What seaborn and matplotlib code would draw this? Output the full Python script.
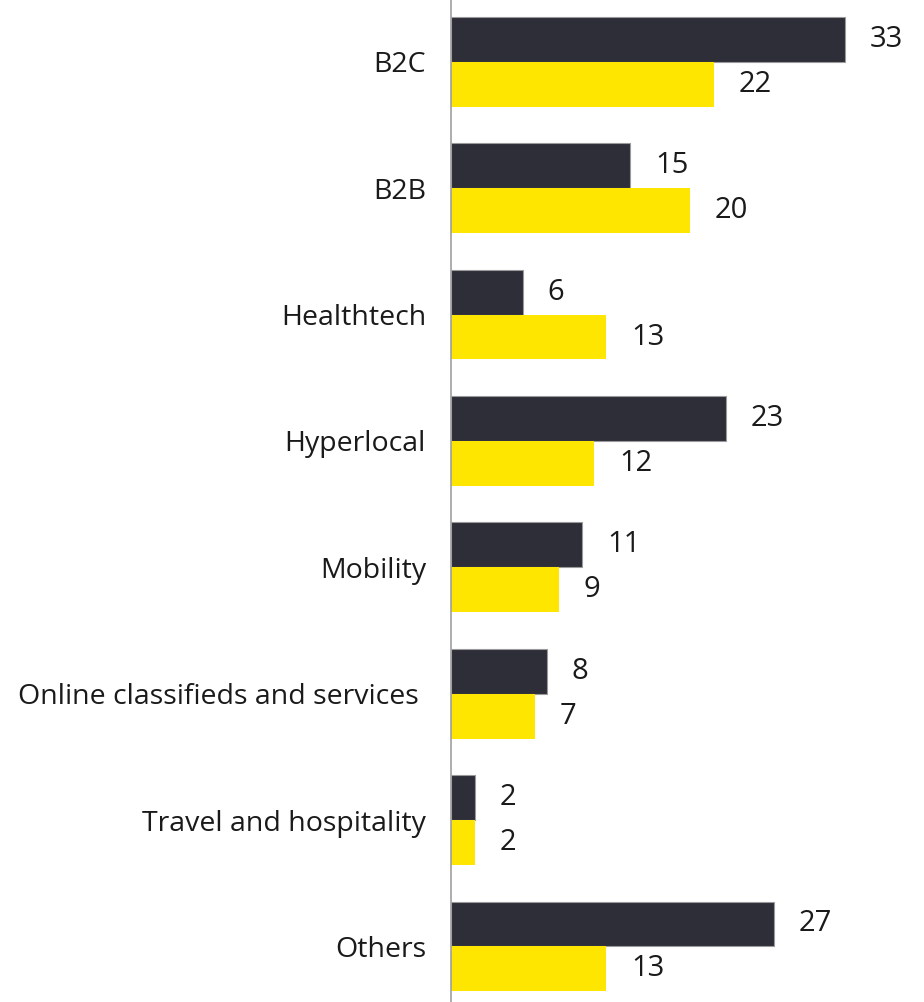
import matplotlib
matplotlib.use("Agg")
import matplotlib.pyplot as plt
import pandas as pd
import seaborn as sns

categories = ["B2C", "B2B", "Healthtech", "Hyperlocal", "Mobility",
              "Online classifieds and services ", "Travel and hospitality", "Others"]
series_a = [33, 15, 6, 23, 11, 8, 2, 27]
series_b = [22, 20, 13, 12, 9, 7, 2, 13]
series_names = ["Series A", "Series B"]
colors = ["#2E2E38", "#FFE600"]

df = pd.DataFrame({
    "category": categories * 2,
    "value": series_a + series_b,
    "series": [series_names[0]] * len(categories) + [series_names[1]] * len(categories),
})

sns.set_style("white")
plt.rcParams["font.family"] = ["Open Sans", "DejaVu Sans"]

fig = plt.figure(figsize=(9.24, 10.02), dpi=100)
ax = fig.add_axes([451 / 924, 0, 1 - 451 / 924, 1])

sns.barplot(data=df, y="category", x="value", hue="series", orient="h",
            palette=colors, saturation=1, width=0.71, dodge=True,
            legend=False, ax=ax)

# thin grey outline on dark bars only
for patch in ax.containers[0]:
    patch.set_edgecolor("#9A9A9A")
    patch.set_linewidth(0.8)
for patch in ax.containers[1]:
    patch.set_linewidth(0)

for cont in ax.containers:
    ax.bar_label(cont, padding=18, fontsize=21, color="#1A1A1A")

ax.set_xlim(0, 39.6)
ax.set_ylim(7.44, -0.49)
ax.set_xlabel("")
ax.set_ylabel("")
ax.set_xticks([])
ax.tick_params(axis="y", length=0, pad=18, labelsize=20.5, labelcolor="#1A1A1A")
for s in ["top", "right", "bottom"]:
    ax.spines[s].set_visible(False)
ax.spines["left"].set_color("#A0A0A0")
ax.spines["left"].set_linewidth(1.2)

fig.savefig("out.png", dpi=100)
